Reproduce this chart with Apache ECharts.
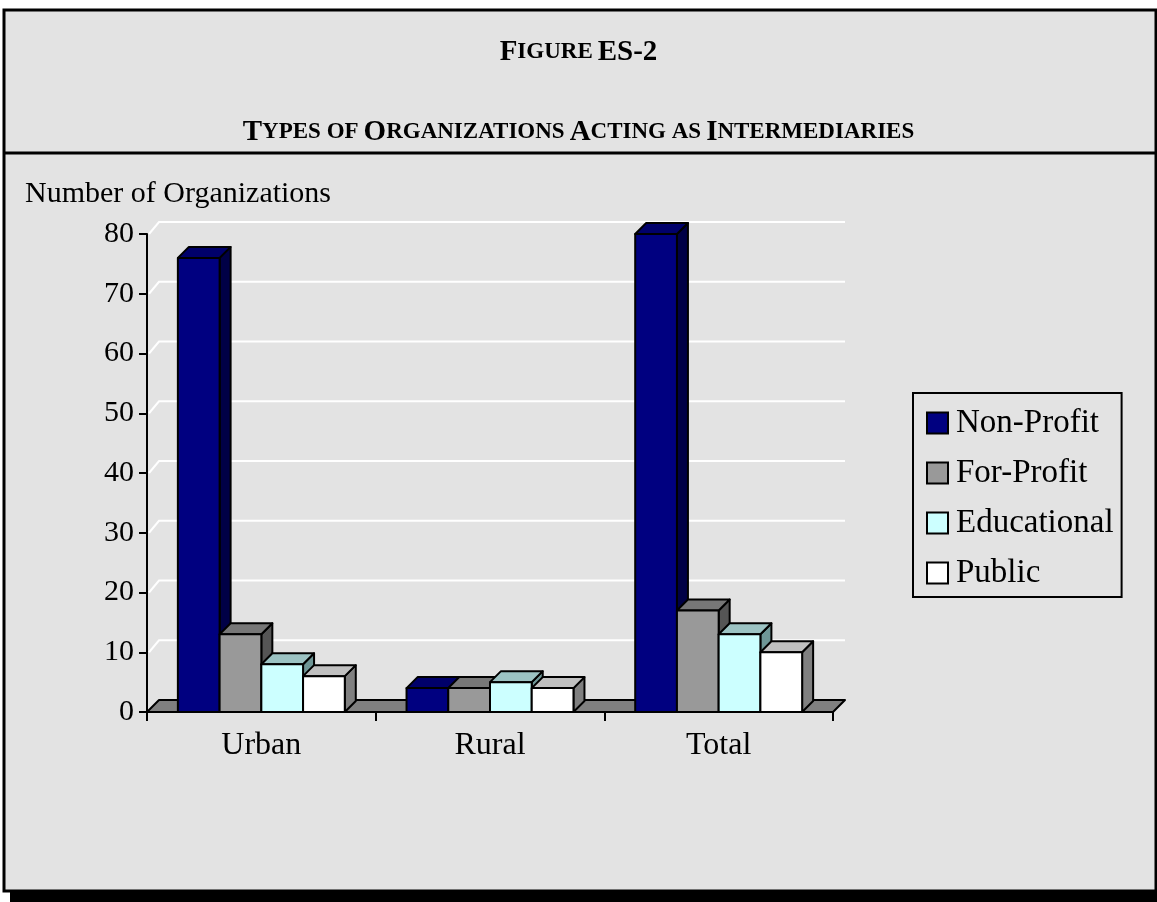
<!DOCTYPE html>
<html><head><meta charset="utf-8">
<script src="https://cdn.jsdelivr.net/npm/echarts@6/dist/echarts.min.js"></script>
<style>html,body{margin:0;padding:0;background:#fff}#c{width:1157px;height:902px}</style>
</head><body><div id="c"></div>
<script>
var categories = ['Urban', 'Rural', 'Total'];
var seriesNames = ['Non-Profit', 'For-Profit', 'Educational', 'Public'];
var nonProfit = [76, 4, 80];
var forProfit = [13, 4, 17];
var educational = [8, 5, 13];
var publicOrgs = [6, 4, 10];
var yTicks = [0, 10, 20, 30, 40, 50, 60, 70, 80];

var FONT = "'Liberation Serif','Times New Roman',serif";
var faces = [
  {front: '#000080', top: '#00006a', side: '#000046'},
  {front: '#999999', top: '#777777', side: '#555555'},
  {front: '#ccffff', top: '#9cc3c3', side: '#6e9696'},
  {front: '#ffffff', top: '#c0c0c0', side: '#808080'}
];
var values = [nonProfit, forProfit, educational, publicOrgs];
var DX = 11, DY = 11;
var WX = 12, WY = 12;
var GROUP = 0.73;

function barRender(si) {
  return function (params, api) {
    var ci = api.value(0), v = api.value(1);
    var p0 = api.coord([ci, 0]);
    var p1 = api.coord([ci, v]);
    var band = api.size([1, 0])[0];
    var gw = band * GROUP, bw = gw / values.length;
    var x0 = p0[0] - gw / 2 + si * bw, x1 = x0 + bw;
    var yb = p0[1], yt = p1[1];
    function st(fill) { return {fill: fill, stroke: '#000', lineWidth: 2, lineJoin: 'round'}; }
    return {type: 'group', children: [
      {type: 'polygon', shape: {points: [[x1, yb], [x1 + DX, yb - DY], [x1 + DX, yt - DY], [x1, yt]]}, style: st(faces[si].side)},
      {type: 'polygon', shape: {points: [[x0, yt], [x1, yt], [x1 + DX, yt - DY], [x0 + DX, yt - DY]]}, style: st(faces[si].top)},
      {type: 'rect', shape: {x: x0, y: yt, width: bw, height: yb - yt}, style: st(faces[si].front)}
    ]};
  };
}

function wallRender(params, api) {
  var cs = params.coordSys;
  var y = api.coord([0, api.value(1)])[1];
  var xl = cs.x, xr = cs.x + cs.width;
  return {type: 'polyline', shape: {points: [[xl + 2, y], [xl + WX, y - WY], [xr + WX, y - WY]]},
    style: {stroke: '#ffffff', lineWidth: 2, fill: null}};
}

function floorRender(params, api) {
  var cs = params.coordSys;
  var y = api.coord([0, 0])[1];
  var xl = cs.x, xr = cs.x + cs.width;
  return {type: 'polygon', shape: {points: [[xl, y], [xr, y], [xr + WX, y - WY], [xl + WX, y - WY]]},
    style: {fill: '#808080', stroke: '#000', lineWidth: 2, lineJoin: 'round'}};
}

var series = [
  {type: 'custom', name: 'walls', renderItem: wallRender, data: yTicks.map(function (t) { return [0, t]; }), silent: true, z: 1},
  {type: 'custom', name: 'floor', renderItem: floorRender, data: [[0, 0]], silent: true, z: 2}
];
values.forEach(function (arr, si) {
  series.push({
    type: 'custom', name: seriesNames[si], renderItem: barRender(si), z: 3,
    itemStyle: {color: faces[si].front, borderColor: '#000', borderWidth: 2},
    data: arr.map(function (v, i) { return [i, v]; })
  });
});

var chart = echarts.init(document.getElementById('c'), null, {renderer: 'canvas'});
chart.setOption({
  backgroundColor: '#ffffff',
  animation: false,
  graphic: [
    {type: 'rect', z: -20, shape: {x: 10, y: 889, width: 1147, height: 13}, style: {fill: '#000'}},
    {type: 'rect', z: -10, shape: {x: 4, y: 10, width: 1152, height: 881}, style: {fill: '#e3e3e3', stroke: '#000', lineWidth: 3}},
    {type: 'line', z: -9, shape: {x1: 4, y1: 153, x2: 1157, y2: 153}, style: {stroke: '#000', lineWidth: 3}}
  ],
  title: [
    {text: '{L|F}{S|IGURE} {L|ES-2}', left: 'center', top: 33,
      textStyle: {rich: {L: {fontSize: 29, fontWeight: 'bold', fontFamily: FONT, color: '#000'}, S: {fontSize: 23, fontWeight: 'bold', fontFamily: FONT, color: '#000'}}}},
    {text: '{L|T}{S|YPES OF} {L|O}{S|RGANIZATIONS} {L|A}{S|CTING AS} {L|I}{S|NTERMEDIARIES}', left: 'center', top: 113,
      textStyle: {rich: {L: {fontSize: 29, fontWeight: 'bold', fontFamily: FONT, color: '#000'}, S: {fontSize: 23, fontWeight: 'bold', fontFamily: FONT, color: '#000'}}}},
    {text: 'Number of Organizations', left: 20, top: 174,
      textStyle: {fontSize: 30, fontWeight: 'normal', fontFamily: FONT, color: '#000'}}
  ],
  legend: {
    orient: 'vertical', left: 913, top: 393, padding: [12, 8, 6, 13], itemGap: 14,
    itemWidth: 21, itemHeight: 21, borderColor: '#000', borderWidth: 2,
    textStyle: {fontFamily: FONT, fontSize: 33, color: '#000', lineHeight: 36, padding: [0, 0, 0, 3]},
    data: seriesNames.map(function (n, i) {
      return {name: n, icon: 'rect', itemStyle: {color: faces[i].front, borderColor: '#000', borderWidth: 2}};
    })
  },
  grid: {left: 147, top: 234, width: 686, height: 478, containLabel: false},
  xAxis: {
    type: 'category', data: categories,
    axisLine: {lineStyle: {color: '#000', width: 2}},
    axisTick: {show: true, length: 9, lineStyle: {color: '#000', width: 2}},
    axisLabel: {fontFamily: FONT, fontSize: 32, color: '#000', margin: 18},
    splitLine: {show: false}
  },
  yAxis: {
    type: 'value', min: 0, max: 80, interval: 10,
    axisLine: {show: true, lineStyle: {color: '#000', width: 2}},
    axisTick: {show: true, length: 8, lineStyle: {color: '#000', width: 2}},
    axisLabel: {fontFamily: FONT, fontSize: 30, color: '#000', margin: 13},
    splitLine: {show: false}
  },
  series: series
});
</script></body></html>
